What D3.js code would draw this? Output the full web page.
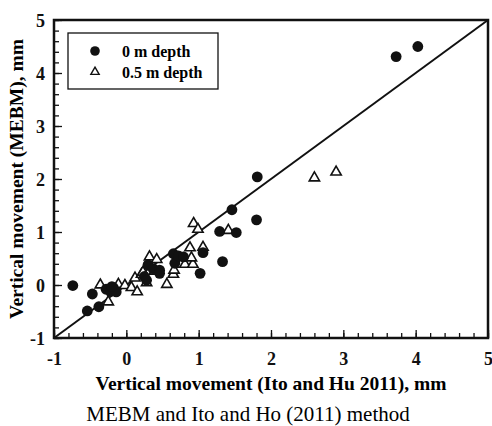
<!DOCTYPE html>
<html><head><meta charset="utf-8">
<script src="https://cdn.jsdelivr.net/npm/d3@7"></script>
<style>body{margin:0;background:#fff}svg{display:block}</style>
</head><body><svg id="c" width="492" height="426"></svg>
<script>
const seriesNames = ["0 m depth", "0.5 m depth"];
const tickValues = [-1, 0, 1, 2, 3, 4, 5];
const tickLabels = ["-1", "0", "1", "2", "3", "4", "5"];
const xLabel = "Vertical movement (Ito and Hu 2011), mm";
const yLabel = "Vertical movement (MEBM), mm";
const caption = "MEBM and Ito and Ho (2011) method";
// 0 m depth (filled circles)
const depth0X = [-0.74,-0.54,-0.47,-0.38,-0.28,-0.22,-0.18,-0.14,-0.20,0.25,0.28,0.30,0.37,0.46,0.46,0.65,0.67,0.72,0.79,1.02,1.06,1.33,1.29,1.52,1.46,1.80,1.81,3.73,4.03];
const depth0Y = [-0.01,-0.49,-0.17,-0.41,-0.08,-0.12,-0.05,-0.13,-0.03,0.16,0.09,0.38,0.31,0.28,0.22,0.59,0.41,0.55,0.53,0.22,0.61,0.44,1.01,0.99,1.42,1.23,2.04,4.31,4.50];
// 0.5 m depth (open triangles)
const depth05X = [-0.36,-0.25,-0.11,-0.02,0.07,0.15,0.12,0.21,0.23,0.28,0.32,0.42,0.39,0.56,0.65,0.66,0.76,0.81,0.92,0.90,0.88,1.06,0.93,0.99,1.41,2.60,2.90];
const depth05Y = [0.02,-0.30,0.03,0.01,-0.03,-0.11,0.15,0.22,0.26,0.06,0.55,0.50,0.28,0.03,0.22,0.30,0.41,0.41,0.41,0.53,0.72,0.73,1.18,1.07,1.05,2.04,2.15];

const svg = d3.select("#c");
const L = 54, R = 488, T = 20, B = 338;
const x = d3.scaleLinear().domain([-1, 5]).range([L, R]);
const y = d3.scaleLinear().domain([-1, 5]).range([B, T]);
const serif = "'Liberation Serif','Times New Roman',serif";
const fmt = d => tickLabels[tickValues.indexOf(d)];

// minor ticks
const minor = d3.range(-1, 5.001, 0.2).map(v => +v.toFixed(1));
const gx = svg.append("g").attr("transform", `translate(0,${B})`)
  .call(d3.axisBottom(x).tickValues(minor).tickSize(-5).tickFormat(""));
const gy = svg.append("g").attr("transform", `translate(${L},0)`)
  .call(d3.axisLeft(y).tickValues(minor).tickSize(-5).tickFormat(""));
[gx, gy].forEach(g => { g.select(".domain").remove(); g.selectAll("line").attr("stroke", "#111").attr("stroke-width", 1.3); });
const gx2 = svg.append("g").attr("transform", `translate(0,${B})`)
  .call(d3.axisBottom(x).tickValues(tickValues).tickFormat(fmt).tickSize(-8).tickPadding(14));
const gy2 = svg.append("g").attr("transform", `translate(${L},0)`)
  .call(d3.axisLeft(y).tickValues(tickValues).tickFormat(fmt).tickSize(-8).tickPadding(9));
[gx2, gy2].forEach(g => {
  g.attr("font-family", serif).attr("font-size", 18);
  g.select(".domain").remove();
  g.selectAll("line").attr("stroke", "#111").attr("stroke-width", 1.3);
  g.selectAll("text").attr("font-family", serif).attr("font-weight", "bold").attr("font-size", 18).attr("fill", "#111");
});
gx2.selectAll("text").attr("dy", "0.71em");
gy2.selectAll("text").attr("dy", "0.35em");

// frame
svg.append("rect").attr("x", L).attr("y", T).attr("width", R - L).attr("height", B - T)
  .attr("fill", "none").attr("stroke", "#111").attr("stroke-width", 2.5);

// 1:1 line
svg.append("line").attr("x1", x(-1)).attr("y1", y(-1)).attr("x2", x(5)).attr("y2", y(5))
  .attr("stroke", "#111").attr("stroke-width", 2);

const tri = d3.symbol().type(d3.symbolTriangle).size(46);
const d05 = depth05X.map((v, i) => [v, depth05Y[i]]);
const d0 = depth0X.map((v, i) => [v, depth0Y[i]]);
svg.append("g").selectAll("path").data(d05).join("path")
  .attr("d", tri).attr("transform", d => `translate(${x(d[0])},${y(d[1]) + 1})`)
  .attr("fill", "#fff").attr("stroke", "#111").attr("stroke-width", 1.6);
svg.append("g").selectAll("circle").data(d0).join("circle")
  .attr("cx", d => x(d[0])).attr("cy", d => y(d[1])).attr("r", 5.4).attr("fill", "#111");

// legend
svg.append("rect").attr("x", 68).attr("y", 33).attr("width", 150).attr("height", 56)
  .attr("fill", "#fff").attr("stroke", "#111").attr("stroke-width", 1.3);
svg.append("circle").attr("cx", 95).attr("cy", 51).attr("r", 4.8).attr("fill", "#111");
svg.append("path").attr("d", d3.symbol().type(d3.symbolTriangle).size(30))
  .attr("transform", "translate(95,72)").attr("fill", "#fff").attr("stroke", "#111").attr("stroke-width", 1.4);
svg.append("text").attr("x", 122).attr("y", 57).text(seriesNames[0])
  .attr("font-family", serif).attr("font-weight", "bold").attr("font-size", 16);
svg.append("text").attr("x", 122).attr("y", 78).text(seriesNames[1])
  .attr("font-family", serif).attr("font-weight", "bold").attr("font-size", 16);

// axis titles
svg.append("text").attr("x", 271).attr("y", 390).attr("text-anchor", "middle").text(xLabel)
  .attr("font-family", serif).attr("font-weight", "bold").attr("font-size", 19.5);
svg.append("text").attr("transform", `translate(23,${(T + B) / 2}) rotate(-90)`).attr("text-anchor", "middle").text(yLabel)
  .attr("font-family", serif).attr("font-weight", "bold").attr("font-size", 19.5);
svg.append("text").attr("x", 248).attr("y", 421).attr("text-anchor", "middle").text(caption)
  .attr("font-family", serif).attr("font-size", 21);
</script></body></html>
